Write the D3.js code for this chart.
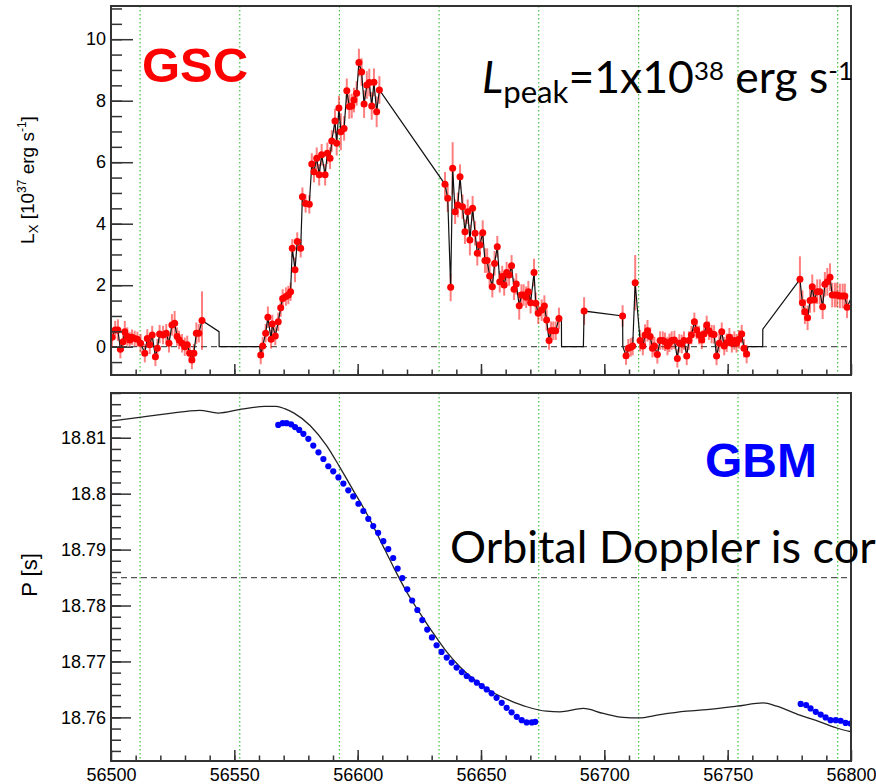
<!DOCTYPE html>
<html>
<head>
<meta charset="utf-8">
<script src="https://cdn.jsdelivr.net/npm/d3@7"></script>
<style>
  body { margin: 0; background: #fff; }
  svg { display: block; }
</style>
</head>
<body>
<svg id="chart" width="876" height="784"></svg>
<script>
// Values (MJD on x).
var orbitMarks = [56511.8, 56552.2, 56592.6, 56633.0, 56673.4, 56713.9, 56754.2, 56794.6];
var xTicks = [56500, 56550, 56600, 56650, 56700, 56750, 56800];
var lumTicks = [0, 2, 4, 6, 8, 10];
var periodTicks = [18.76, 18.77, 18.78, 18.79, 18.80, 18.81];
var periodRef = 18.785;

// MAXI/GSC luminosity: [MJD, L (1e37 erg/s), error]
var gscPoints = [
  [56500.4,0.31,0.3],[56501.7,0.54,0.3],[56502.8,0.54,0.35],[56503.8,-0.08,0.3],[56504.9,0.16,0.3],
  [56505.6,0.49,0.35],[56506.6,0.33,0.3],[56507.6,0.22,0.25],[56508.5,0.31,0.25],[56509.6,0.27,0.25],
  [56510.7,0.24,0.25],[56512.0,0.11,0.3],[56513.7,-0.21,0.3],[56514.7,0.27,0.3],[56515.7,0.06,0.3],
  [56516.7,0.38,0.3],[56518.0,-0.33,0.3],[56518.8,-0.05,0.3],[56519.7,0.41,0.3],[56521.1,0.38,0.3],
  [56522.4,0.44,0.3],[56523.5,0.11,0.3],[56524.7,0.71,0.35],[56525.8,0.76,0.4],[56526.8,0.33,0.3],
  [56527.6,0.22,0.3],[56528.8,0.11,0.3],[56529.9,0.0,0.3],[56530.9,0.06,0.3],[56531.9,-0.21,0.3],
  [56532.8,-0.43,0.3],[56533.6,-0.21,0.3],[56534.6,0.44,0.35],[56535.6,0.44,0.3],[56536.9,0.85,0.95],
  // outburst rise
  [56560.7,-0.27,0.3],[56561.5,0.02,0.3],[56562.7,0.44,0.3],[56563.6,0.96,0.35],[56564.9,0.24,0.3],
  [56565.4,0.74,0.3],[56566.6,0.35,0.3],[56567.8,0.81,0.3],[56568.8,1.27,0.3],[56569.6,1.57,0.3],
  [56570.9,1.63,0.3],[56571.9,1.68,0.3],[56572.8,1.79,0.3],[56573.5,3.20,0.3],[56574.6,2.50,0.4],
  [56575.5,3.42,0.3],[56576.9,3.20,0.3],[56577.6,4.88,0.3],[56578.9,4.66,0.3],[56580.4,4.63,0.3],
  [56581.4,5.94,0.35],[56582.3,5.69,0.35],[56583.4,6.13,0.35],[56584.4,5.59,0.35],[56585.4,6.24,0.35],
  [56586.8,5.59,0.35],[56587.7,6.29,0.35],[56588.8,6.13,0.35],[56589.5,6.69,0.35],[56590.8,7.34,0.4],
  [56591.5,6.62,0.4],[56592.4,7.76,0.4],[56593.2,6.99,0.6],[56594.5,7.10,0.4],[56595.6,8.32,0.4],
  [56596.6,7.81,0.4],[56597.6,7.83,0.4],[56598.5,8.02,0.4],[56599.6,8.24,0.4],[56600.5,9.24,0.45],
  [56601.6,8.93,0.45],[56602.6,7.89,0.45],[56603.7,8.51,0.45],[56604.7,8.59,0.45],[56605.7,7.83,0.45],
  [56606.6,8.60,0.45],[56607.7,7.64,0.5],[56608.8,8.35,0.45],
  // decay
  [56635.4,5.28,0.4],[56636.5,4.83,0.45],[56637.7,1.93,0.45],[56638.5,5.80,0.85],[56639.5,4.39,0.4],
  [56640.6,4.61,0.4],[56641.5,5.53,0.4],[56642.5,4.55,0.4],[56643.5,3.74,0.4],[56644.6,4.39,0.4],
  [56645.5,3.47,0.5],[56646.6,4.50,0.4],[56647.6,3.69,0.4],[56648.5,3.04,0.4],[56649.6,3.31,0.4],
  [56650.7,3.71,0.4],[56651.6,2.80,0.4],[56652.5,2.80,0.4],[56653.5,2.30,0.4],[56654.6,1.95,0.35],
  [56655.5,2.71,0.4],[56656.6,3.25,0.35],[56657.6,2.11,0.35],[56658.6,2.28,0.35],[56659.4,2.01,0.35],
  [56660.4,2.41,0.35],[56661.4,2.33,0.35],[56662.4,2.63,0.35],[56663.4,1.87,0.35],[56664.3,2.04,0.35],
  [56665.5,1.33,0.45],[56666.4,1.68,0.35],[56667.3,1.68,0.35],[56668.3,1.61,0.35],[56669.2,1.79,0.35],
  [56670.1,1.43,0.35],[56671.5,2.41,0.45],[56672.2,1.41,0.35],[56673.2,1.09,0.35],[56674.6,1.19,0.35],
  [56675.7,1.32,0.35],[56676.6,0.87,0.35],[56677.6,0.20,0.3],[56678.4,0.52,0.3],[56679.3,0.52,0.3],
  [56680.3,0.52,0.3],[56681.6,0.92,0.35],
  [56691.8,1.16,0.45],[56707.4,1.00,0.35],
  // quiescence
  [56708.8,-0.29,0.3],[56709.7,-0.05,0.3],[56710.7,-0.02,0.3],[56711.5,0.02,0.3],[56712.5,2.08,0.9],
  [56714.5,0.20,0.35],[56715.6,0.02,0.3],[56716.5,0.38,0.35],[56717.5,0.52,0.35],[56718.6,0.33,0.3],
  [56719.5,-0.05,0.3],[56720.3,0.02,0.3],[56721.5,-0.25,0.3],[56722.6,0.20,0.3],[56723.7,0.20,0.3],
  [56724.6,0.16,0.3],[56725.6,0.02,0.3],[56726.4,0.13,0.3],[56727.3,0.20,0.3],[56728.4,0.22,0.3],
  [56729.6,-0.38,0.3],[56730.4,0.11,0.3],[56731.4,0.09,0.3],[56732.3,0.20,0.3],[56733.4,-0.30,0.3],
  [56734.3,0.20,0.3],[56735.3,0.38,0.3],[56736.5,0.81,0.3],[56737.4,0.54,0.3],[56738.4,0.38,0.3],
  [56739.5,0.22,0.3],[56740.4,0.41,0.3],[56741.5,0.71,0.3],[56742.4,0.52,0.3],[56743.5,0.41,0.3],
  [56744.5,0.40,0.3],[56745.5,-0.30,0.3],[56746.6,0.11,0.3],[56747.6,0.49,0.3],[56748.6,0.02,0.3],
  [56749.6,0.13,0.3],[56750.7,0.31,0.3],[56751.7,0.11,0.3],[56752.7,0.20,0.3],[56753.6,0.11,0.3],
  [56754.6,0.24,0.3],[56755.7,0.41,0.3],[56756.6,-0.05,0.3],[56757.7,-0.24,0.3],
  // next outburst
  [56779.3,2.19,0.75],[56780.3,1.43,0.4],[56781.3,1.14,0.4],[56782.4,0.94,0.4],[56783.4,1.50,0.4],
  [56784.3,1.95,0.4],[56785.1,1.52,0.4],[56786.3,1.79,0.4],[56787.4,1.79,0.4],[56788.5,1.30,0.4],
  [56789.4,2.03,0.4],[56790.4,2.11,0.45],[56791.5,2.26,0.45],[56792.4,1.68,0.4],[56793.5,1.68,0.4],
  [56794.4,1.68,0.4],[56795.5,1.65,0.4],[56796.6,1.65,0.4],[56797.5,1.65,0.4],[56798.4,1.28,0.35]
];

// extra vertices the black curve passes through in the data gaps
var lineAnchors = [
  [56543.8,0.49],[56543.85,0],[56560.3,0],
  [56682.6,0.85],[56682.65,0],[56691.5,0],
  [56707.5,0],
  [56758.2,0],[56764.2,0],[56764.25,0.57],
  [56801.0,1.75]
];

// black curve in the lower panel (model spin period)
var periodModel = [
  [56500.0,18.8130],[56512.3,18.8137],[56523.1,18.8143],[56536.0,18.8149],[56543.4,18.8144],
  [56552.8,18.8151],[56562.3,18.8156],[56567.0,18.8156],[56570.4,18.8152],[56574.2,18.8144],
  [56580.7,18.8122],[56587.4,18.8086],[56592.8,18.8047],[56598.2,18.8006],[56603.7,18.7964],
  [56609.1,18.7917],[56614.5,18.7869],[56619.9,18.7824],[56625.3,18.7786],[56630.7,18.7750],
  [56636.1,18.7717],[56641.5,18.7690],[56648.3,18.7664],[56655.0,18.7644],[56661.8,18.7630],
  [56668.5,18.7619],[56676.6,18.7611],[56682.0,18.7610],[56691.5,18.7616],[56699.6,18.7607],
  [56707.7,18.7600],[56713.8,18.7599],[56722.6,18.7605],[56733.4,18.7611],[56741.5,18.7614],
  [56753.7,18.7620],[56764.5,18.7626],[56769.9,18.7620],[56779.3,18.7604],[56787.4,18.7592],
  [56794.2,18.7581],[56800.3,18.7574]
];

// Fermi/GBM pulse periods
var gbmPeriod = [
  [56567.8,18.8123],[56569.6,18.8126],[56571.2,18.8126],[56573.0,18.8124],[56574.6,18.8119],
  [56576.3,18.8114],[56578.0,18.8107],[56580.0,18.8098],[56582.0,18.8086],[56584.1,18.8074],
  [56586.1,18.8062],[56588.1,18.8049],[56590.1,18.8040],[56592.2,18.8029],[56594.2,18.8018],
  [56596.2,18.8006],[56598.2,18.7995],[56600.3,18.7982],[56602.3,18.7969],[56604.3,18.7955],
  [56606.3,18.7942],[56608.3,18.7930],[56610.4,18.7915],[56612.4,18.7901],[56614.4,18.7885],
  [56616.2,18.7866],[56618.1,18.7849],[56620.1,18.7829],[56622.1,18.7809],[56624.2,18.7792],
  [56626.2,18.7774],[56628.2,18.7757],[56630.1,18.7743],[56632.0,18.7729],[56634.0,18.7717],
  [56636.1,18.7707],[56638.1,18.7698],[56640.1,18.7689],[56642.2,18.7681],[56644.2,18.7674],
  [56646.2,18.7668],[56648.3,18.7662],[56650.3,18.7656],[56652.3,18.7650],[56654.3,18.7643],
  [56656.3,18.7635],[56658.4,18.7626],[56660.4,18.7617],[56662.4,18.7609],[56664.5,18.7601],
  [56666.5,18.7595],[56668.5,18.7591],[56670.6,18.7591],[56672.0,18.7592],
  [56779.6,18.7624],[56781.8,18.7622],[56783.6,18.7616],[56785.7,18.7610],[56787.7,18.7605],
  [56789.7,18.7600],[56791.7,18.7595],[56793.8,18.7595],[56795.8,18.7594],[56797.8,18.7590],
  [56799.8,18.7589]
];

var svg = d3.select('#chart');
var frameLeft = 111, frameRight = 851;
var topPanel = { top: 6, bottom: 375 };
var botPanel = { top: 393, bottom: 761 };
var axisFont = '"Liberation Sans", Arial, Helvetica, sans-serif';
var slideFont = 'Lato, "Open Sans", sans-serif';

var x = d3.scaleLinear().domain([56500, 56800]).range([frameLeft, frameRight]);
var yLum = d3.scaleLinear().domain([-0.92, 11.08]).range([topPanel.bottom, topPanel.top]);
var yPer = d3.scaleLinear().domain([18.7522, 18.818]).range([botPanel.bottom, botPanel.top]);

var defs = svg.append('defs');
function addClip(id, panel) {
  defs.append('clipPath').attr('id', id).append('rect')
    .attr('x', frameLeft).attr('y', panel.top)
    .attr('width', frameRight - frameLeft).attr('height', panel.bottom - panel.top);
}
addClip('clipTop', topPanel);
addClip('clipBot', botPanel);

function drawOrbitMarks(g, panel) {
  g.selectAll('line.orbit').data(orbitMarks).enter().append('line')
    .attr('class', 'orbit')
    .attr('x1', function(d) { return x(d); }).attr('x2', function(d) { return x(d); })
    .attr('y1', panel.top).attr('y2', panel.bottom)
    .attr('stroke', '#3fc43f').attr('stroke-width', 1.2)
    .attr('stroke-dasharray', '1.5,2.5');
}

function drawRefLine(g, yPix) {
  g.append('line')
    .attr('x1', frameLeft).attr('x2', frameRight)
    .attr('y1', yPix).attr('y2', yPix)
    .attr('stroke', '#555').attr('stroke-width', 1.2)
    .attr('stroke-dasharray', '6,4');
}

// ROOT-style axes: ticks pointing inward, minor ticks in between
function drawAxes(panel, yScale, yMajor, yMinor, majorLen, fmt, xLabels) {
  var g = svg.append('g').attr('class', 'axes');

  g.append('g').attr('transform', 'translate(' + frameLeft + ',0)')
    .call(d3.axisLeft(yScale).tickValues(yMinor).tickSizeInner(-majorLen / 2).tickSizeOuter(0).tickFormat(''));
  g.append('g').attr('transform', 'translate(' + frameLeft + ',0)')
    .call(d3.axisLeft(yScale).tickValues(yMajor).tickSizeInner(-majorLen).tickSizeOuter(0)
      .tickPadding(5).tickFormat(fmt));

  var minorX = d3.range(56510, 56800, 10);
  g.append('g').attr('transform', 'translate(0,' + panel.bottom + ')')
    .call(d3.axisBottom(x).tickValues(minorX).tickSizeInner(-5.5).tickSizeOuter(0).tickFormat(''));
  g.append('g').attr('transform', 'translate(0,' + panel.bottom + ')')
    .call(d3.axisBottom(x).tickValues(xTicks).tickSizeInner(-11).tickSizeOuter(0)
      .tickPadding(7).tickFormat(xLabels ? d3.format('d') : ''));

  g.selectAll('.domain').remove();
  g.selectAll('.tick line').attr('stroke', '#333').attr('stroke-width', 1.5);
  g.selectAll('.tick text')
    .attr('font-family', axisFont).attr('font-size', 18).attr('fill', '#000');

  svg.append('rect')
    .attr('x', frameLeft).attr('y', panel.top)
    .attr('width', frameRight - frameLeft).attr('height', panel.bottom - panel.top)
    .attr('fill', 'none').attr('stroke', '#333').attr('stroke-width', 2);
}

// ---------- upper panel: GSC luminosity ----------
var topG = svg.append('g').attr('clip-path', 'url(#clipTop)');
drawOrbitMarks(topG, topPanel);
drawRefLine(topG, yLum(0));

topG.selectAll('line.err').data(gscPoints).enter().append('line')
  .attr('class', 'err')
  .attr('x1', function(d) { return x(d[0]); }).attr('x2', function(d) { return x(d[0]); })
  .attr('y1', function(d) { return yLum(d[1] - d[2]); })
  .attr('y2', function(d) { return yLum(d[1] + d[2]); })
  .attr('stroke', '#ff0000').attr('stroke-opacity', 0.5).attr('stroke-width', 2);

var curve = gscPoints.map(function(d) { return [d[0], d[1]]; }).concat(lineAnchors)
  .sort(function(a, b) { return a[0] - b[0]; });
var lumLine = d3.line().x(function(d) { return x(d[0]); }).y(function(d) { return yLum(d[1]); });
topG.append('path').datum(curve)
  .attr('d', lumLine).attr('fill', 'none')
  .attr('stroke', '#111').attr('stroke-width', 1.2);

topG.selectAll('circle.gsc').data(gscPoints).enter().append('circle')
  .attr('class', 'gsc')
  .attr('cx', function(d) { return x(d[0]); })
  .attr('cy', function(d) { return yLum(d[1]); })
  .attr('r', 3.5).attr('fill', '#ff0000');

drawAxes(topPanel, yLum, lumTicks, d3.range(-0.5, 11.01, 0.5), 22, d3.format('d'), false);

// ---------- lower panel: spin period ----------
var botG = svg.append('g').attr('clip-path', 'url(#clipBot)');
drawOrbitMarks(botG, botPanel);
drawRefLine(botG, yPer(periodRef));

var perLine = d3.line().x(function(d) { return x(d[0]); }).y(function(d) { return yPer(d[1]); })
  .curve(d3.curveMonotoneX);
botG.append('path').datum(periodModel)
  .attr('d', perLine).attr('fill', 'none')
  .attr('stroke', '#222').attr('stroke-width', 1.3);

botG.selectAll('circle.gbm').data(gbmPeriod).enter().append('circle')
  .attr('class', 'gbm')
  .attr('cx', function(d) { return x(d[0]); })
  .attr('cy', function(d) { return yPer(d[1]); })
  .attr('r', 3.1).attr('fill', '#0000ff');

drawAxes(botPanel, yPer, periodTicks, d3.range(18.754, 18.8181, 0.002), 20,
  function(d) { return String(+d.toFixed(2)); }, true);

// ---------- axis titles ----------
var lumTitle = svg.append('text')
  .attr('transform', 'translate(34,180) rotate(-90)')
  .attr('text-anchor', 'middle')
  .attr('font-family', axisFont).attr('font-size', 19).attr('fill', '#000');
lumTitle.append('tspan').text('L');
lumTitle.append('tspan').attr('font-size', 13).attr('dy', 4).text('X');
lumTitle.append('tspan').attr('dy', -4).text(' [10');
lumTitle.append('tspan').attr('font-size', 12).attr('dy', -8).text('37');
lumTitle.append('tspan').attr('dy', 8).text(' erg s');
lumTitle.append('tspan').attr('font-size', 12).attr('dy', -8).text('-1');
lumTitle.append('tspan').attr('dy', 8).text(']');

svg.append('text')
  .attr('transform', 'translate(37,575) rotate(-90)')
  .attr('text-anchor', 'middle')
  .attr('font-family', axisFont).attr('font-size', 22).attr('fill', '#000')
  .text('P [s]');

// ---------- annotations ----------
svg.append('text')
  .attr('x', 142).attr('y', 82)
  .attr('font-family', axisFont).attr('font-weight', 'bold').attr('font-size', 49)
  .attr('fill', '#ff0000').text('GSC');

svg.append('text')
  .attr('x', 705).attr('y', 477)
  .attr('font-family', axisFont).attr('font-weight', 'bold').attr('font-size', 48)
  .attr('fill', '#0000ff').text('GBM');

// scale a slide-text element so that its first n characters span `target` px
function fitWidth(sel, target, nChars) {
  var node = sel.node();
  var w = nChars ? node.getSubStringLength(0, nChars) : node.getComputedTextLength();
  var fs = parseFloat(sel.attr('font-size'));
  sel.attr('font-size', fs * target / w);
}

var peak = svg.append('text')
  .attr('x', 482).attr('y', 93)
  .attr('font-family', slideFont).attr('font-size', 46).attr('fill', '#000');
peak.append('tspan').attr('font-style', 'italic').text('L');
peak.append('tspan').attr('font-size', '0.7em').attr('dy', '0.32em').text('peak');
peak.append('tspan').attr('dy', '-0.224em').text('=1x10');
peak.append('tspan').attr('font-size', '0.58em').attr('dy', '-0.5em').text('38');
peak.append('tspan').attr('dy', '0.29em').text(' erg s');
peak.append('tspan').attr('font-size', '0.58em').attr('dy', '-0.5em').text('-1');
fitWidth(peak, 371);

var doppler = svg.append('text')
  .attr('x', 450).attr('y', 563)
  .attr('font-family', slideFont).attr('font-size', 48).attr('fill', '#000')
  .text('Orbital Doppler is corrected');
fitWidth(doppler, 426, 22);
</script>
</body>
</html>
